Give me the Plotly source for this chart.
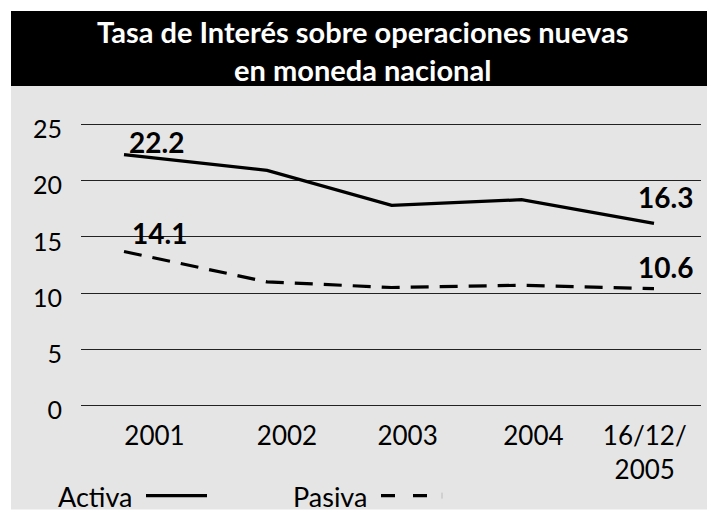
import plotly.graph_objects as go

# ---- data ----
categories = ["2001", "2002", "2003", "2004", "16/12/<br>2005"]
x_pos = [0.0, 1.08, 2.02, 3.0, 4.0]          # horizontal positions of the data points
label_pos = [0.23, 1.23, 2.14, 3.09, 3.93]    # horizontal positions of category labels
activa = [22.3, 20.9, 17.8, 18.3, 16.2]
pasiva = [13.7, 11.0, 10.5, 10.7, 10.4]
activa_labels = ["22.2", "16.3"]
pasiva_labels = ["14.1", "10.6"]
y_ticks = [0, 5, 10, 15, 20, 25]
title_lines = ["Tasa de Interés sobre operaciones nuevas", "en moneda nacional"]
legend_names = ["Activa", "Pasiva"]

# ---- layout geometry (pixels) ----
W, H = 707, 515
L, R, T, B = 81, 6, 113, 97.7
pw, ph = W - L - R, H - T - B

def px(xp):
    return (xp - L) / pw

def py(yp):
    return (H - B - yp) / ph

FONT = "Lato"

fig = go.Figure()
fig.add_trace(go.Scatter(x=x_pos, y=activa, mode="lines",
                         line=dict(color="black", width=3.2), showlegend=False, hoverinfo="skip"))
fig.add_trace(go.Scatter(x=x_pos, y=pasiva, mode="lines",
                         line=dict(color="black", width=3.2, dash="18px,11px"), showlegend=False, hoverinfo="skip"))

shapes = [
    dict(type="rect", xref="paper", yref="paper", x0=px(11), x1=px(707), y0=py(510), y1=py(86),
         fillcolor="#e5e5e5", line=dict(width=0), layer="below"),
    dict(type="rect", xref="paper", yref="paper", x0=px(11), x1=px(707), y0=py(86), y1=py(11),
         fillcolor="black", line=dict(width=0), layer="below"),
    # legend samples
    dict(type="line", xref="paper", yref="paper", x0=px(146), x1=px(207), y0=py(496), y1=py(496),
         line=dict(color="black", width=3.2)),
    dict(type="line", xref="paper", yref="paper", x0=px(381), x1=px(427), y0=py(496), y1=py(496),
         line=dict(color="black", width=3.2, dash="14px,18px")),
    dict(type="line", xref="paper", yref="paper", x0=px(442), x1=px(442), y0=py(493), y1=py(499),
         line=dict(color="#bbbbbb", width=1)),
]

annotations = [
    dict(text="<br>".join(title_lines), xref="paper", yref="paper", x=px(362), y=py(50),
         xanchor="center", yanchor="middle", showarrow=False,
         font=dict(family=FONT, size=29, color="white", weight="bold")),
    dict(text=legend_names[0], xref="paper", yref="paper", x=px(56), y=py(497),
         xanchor="left", yanchor="middle", showarrow=False,
         font=dict(family=FONT, size=27, color="black")),
    dict(text=legend_names[1], xref="paper", yref="paper", x=px(291), y=py(497),
         xanchor="left", yanchor="middle", showarrow=False,
         font=dict(family=FONT, size=27, color="black")),
]

lab_font = dict(family=FONT, size=28, color="black", weight="bold")
annotations += [
    dict(text=activa_labels[0], x=x_pos[0], y=activa[0], xshift=32, yshift=13, showarrow=False,
         xanchor="center", yanchor="middle", font=lab_font),
    dict(text=activa_labels[1], x=x_pos[-1], y=activa[-1], xshift=11, yshift=26, showarrow=False,
         xanchor="center", yanchor="middle", font=lab_font),
    dict(text=pasiva_labels[0], x=x_pos[0], y=pasiva[0], xshift=35, yshift=18, showarrow=False,
         xanchor="center", yanchor="middle", font=lab_font),
    dict(text=pasiva_labels[1], x=x_pos[-1], y=pasiva[-1], xshift=11, yshift=22, showarrow=False,
         xanchor="center", yanchor="middle", font=lab_font),
]

fig.update_layout(
    width=W, height=H,
    margin=dict(l=L, r=R, t=T, b=B, pad=0),
    paper_bgcolor="white", plot_bgcolor="rgba(0,0,0,0)",
    shapes=shapes, annotations=annotations,
    showlegend=False,
)
fig.update_xaxes(range=[(81 - 124) / 132.5, (701 - 124) / 132.5], showgrid=False, zeroline=False,
                 showline=False, tickmode="array", tickvals=label_pos, ticktext=categories,
                 tickfont=dict(family=FONT, size=26, color="black"), ticks="", ticklabelstandoff=1)
fig.update_yaxes(range=[-1, 26], showgrid=True, gridcolor="#222222", gridwidth=1, zeroline=False,
                 showline=False, tickmode="array", tickvals=y_ticks,
                 tickfont=dict(family=FONT, size=25, color="black"), ticks="",
                 ticklabelstandoff=18, ticklabelshift=5)

fig.write_html("out.html", config={"displayModeBar": False},
               post_script="document.body.style.margin='0px';document.body.style.overflow='hidden';")
